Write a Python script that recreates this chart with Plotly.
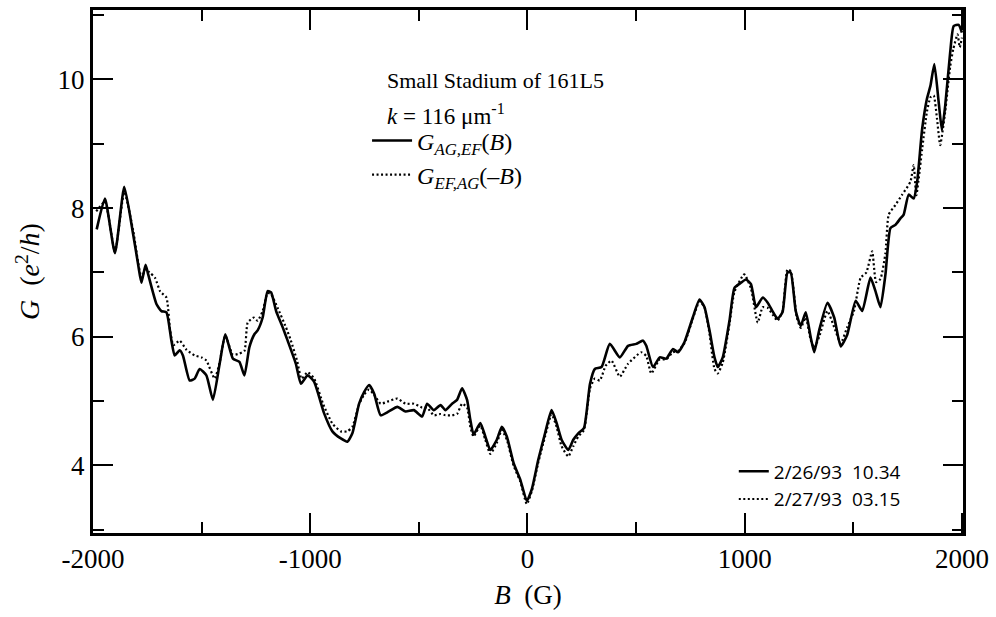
import plotly.graph_objects as go

# Solid curve: G_AG,EF(B), run 2/26/93 10.34
B_solid = [-1983, -1945, -1899, -1856, -1815, -1792, -1777, -1758, -1746, -1708, -1685, -1662, -1639, -1624,
           -1601, -1586, -1555, -1532, -1509, -1478, -1448, -1417, -1391, -1356, -1326, -1303, -1280, -1257,
           -1242, -1219, -1196, -1180, -1157, -1127, -1104, -1066, -1043, -1012, -982, -936, -898, -859, -829,
           -806, -775, -752, -729, -706, -676, -638, -599, -561, -523, -485, -462, -431, -400, -378, -347, -324,
           -301, -278, -263, -248, -217, -194, -171, -141, -118, -95, -64, -33, -3, 20, 50, 81, 111, 134, 157,
           188, 211, 234, 260, 288, 310, 341, 379, 425, 463, 501, 532, 547, 578, 609, 639, 670, 693, 723, 761,
           792, 815, 838, 861, 876, 899, 930, 953, 983, 1006, 1029, 1052, 1083, 1106, 1128, 1151, 1174, 1197,
           1212, 1235, 1258, 1281, 1304, 1320, 1343, 1381, 1412, 1442, 1472, 1511, 1541, 1579, 1602, 1625, 1648,
           1671, 1694, 1717, 1732, 1755, 1778, 1794, 1817, 1839, 1855, 1873, 1893, 1908, 1923, 1946, 1962, 1985,
           2000]
G_solid = [7.67, 8.15, 7.30, 8.33, 7.59, 7.12, 6.84, 7.12, 6.97, 6.51, 6.40, 6.38, 5.94, 5.71,
           5.79, 5.71, 5.32, 5.35, 5.50, 5.40, 5.02, 5.58, 6.04, 5.66, 5.61, 5.40, 5.84, 6.04,
           6.10, 6.30, 6.71, 6.69, 6.40, 6.15, 5.94, 5.58, 5.27, 5.40, 5.30, 4.81, 4.53, 4.42, 4.37,
           4.50, 4.96, 5.14, 5.25, 5.12, 4.78, 4.84, 4.91, 4.84, 4.86, 4.76, 4.96, 4.86, 4.94, 4.86, 4.96, 5.02,
           5.20, 5.02, 4.71, 4.48, 4.66, 4.45, 4.24, 4.40, 4.60, 4.45, 4.04, 3.78, 3.45, 3.63, 4.09, 4.50, 4.86, 4.66, 4.40,
           4.24, 4.40, 4.50, 4.58, 5.27, 5.50, 5.53, 5.89, 5.68, 5.86, 5.89, 5.94, 5.86, 5.53, 5.68, 5.66, 5.81, 5.76, 5.92, 6.30,
           6.58, 6.46, 6.10, 5.68, 5.53, 5.68, 6.25, 6.76, 6.84, 6.89, 6.82, 6.46, 6.61, 6.53, 6.40, 6.28, 6.38, 7.00,
           7.00, 6.40, 6.17, 6.38, 5.99, 5.76, 6.10, 6.53, 6.30, 5.85, 6.03, 6.56, 6.40, 6.92, 6.71, 6.46, 6.97,
           7.69, 7.74, 7.84, 7.90, 8.21, 8.15, 8.41, 9.23, 9.70, 9.90, 10.24, 9.65, 9.21, 9.59, 10.42, 10.83, 10.85,
           10.73]

# Dotted curve: G_EF,AG(-B), run 2/27/93 03.15
B_dot = [-1985, -1945, -1899, -1856, -1815, -1792, -1777, -1758, -1740, -1715, -1690, -1662, -1645, -1630,
         -1601, -1570, -1532, -1500, -1478, -1440, -1417, -1391, -1356, -1326, -1303, -1288, -1260, -1242,
         -1219, -1196, -1180, -1150, -1112, -1090, -1060, -1040, -1012, -982, -940, -898, -859, -829, -806,
         -775, -752, -729, -706, -676, -638, -599, -561, -523, -485, -462, -431, -400, -378, -347, -324, -301,
         -278, -263, -248, -217, -194, -171, -141, -118, -95, -64, -33, -3, 20, 50, 81, 111, 134, 157, 188,
         211, 234, 260, 288, 310, 333, 360, 387, 425, 463, 524, 547, 570, 609, 639, 670, 693, 723, 761, 792,
         815, 838, 861, 876, 899, 930, 953, 998, 1029, 1060, 1083, 1106, 1128, 1151, 1174, 1197, 1212, 1240,
         1258, 1281, 1304, 1320, 1343, 1381, 1412, 1442, 1472, 1503, 1534, 1560, 1587, 1605, 1625, 1648, 1663,
         1694, 1725, 1763, 1778, 1790, 1817, 1839, 1855, 1870, 1885, 1900, 1923, 1946, 1960, 1980, 1990, 2000]
G_dot = [7.95, 8.10, 7.32, 8.25, 7.65, 7.15, 6.92, 7.05, 7.00, 6.92, 6.70, 6.61, 6.10, 5.87,
         5.94, 5.80, 5.71, 5.68, 5.63, 5.35, 5.60, 6.02, 5.72, 5.74, 5.78, 6.22, 6.30, 6.25,
         6.40, 6.68, 6.66, 6.45, 6.15, 5.95, 5.62, 5.35, 5.45, 5.35, 4.95, 4.65, 4.53, 4.53, 4.60,
         4.95, 5.10, 5.18, 5.10, 4.96, 5.00, 5.04, 4.96, 4.96, 4.90, 4.90, 4.78, 4.80, 4.78, 4.78, 4.80, 4.96,
         4.90, 4.60, 4.45, 4.62, 4.40, 4.18, 4.35, 4.55, 4.40, 4.00, 3.75, 3.40, 3.60, 4.05, 4.45, 4.80, 4.60, 4.30, 4.14,
         4.30, 4.45, 4.55, 5.20, 5.35, 5.32, 5.55, 5.63, 5.38, 5.58, 5.76, 5.70, 5.43, 5.65, 5.65, 5.76, 5.78, 5.90, 6.28, 6.55,
         6.46, 6.05, 5.50, 5.43, 5.60, 6.20, 6.70, 6.97, 6.75, 6.22, 6.46, 6.45, 6.35, 6.25, 6.40, 7.05, 7.02, 6.30,
         6.14, 6.30, 5.95, 5.83, 6.00, 6.40, 6.15, 5.90, 6.15, 6.40, 6.92, 7.00, 7.33, 6.85, 6.90, 7.30, 7.90,
         8.05, 8.21, 8.41, 8.67, 8.20, 8.92, 9.50, 9.72, 9.75, 9.40, 8.98, 9.50, 10.20, 10.47, 10.70, 10.50, 10.65]

x_ticks = [-2000, -1000, 0, 1000, 2000]
x_ticklabels = ["-2000", "-1000", "0", "1000", "2000"]
y_ticks = [4, 6, 8, 10]

SERIF = "Liberation Serif"
SANS = "Open Sans"

fig = go.Figure()
fig.add_trace(go.Scatter(x=B_solid, y=G_solid, mode="lines", name="<i>G</i><sub><i>AG,EF</i></sub>(<i>B</i>)",
                         line=dict(color="black", width=2.6, shape="spline", smoothing=0.5), legend="legend"))
fig.add_trace(go.Scatter(x=B_dot, y=G_dot, mode="lines", name="<i>G</i><sub><i>EF,AG</i></sub>(–<i>B</i>)",
                         line=dict(color="black", width=2.2, dash="2px,2.5px", shape="spline", smoothing=0.5),
                         legend="legend"))
fig.add_trace(go.Scatter(x=[None], y=[None], mode="lines", name="2/26/93\u00a0\u00a010.34",
                         line=dict(color="black", width=2.6), legend="legend2"))
fig.add_trace(go.Scatter(x=[None], y=[None], mode="lines", name="2/27/93\u00a0\u00a003.15",
                         line=dict(color="black", width=2, dash="2px,2.5px"), legend="legend2"))

axis_common = dict(showline=True, linewidth=3, linecolor="black", mirror="allticks",
                   ticks="inside", tickwidth=2, tickcolor="black", showgrid=False, zeroline=False,
                   tickfont=dict(family=SERIF, size=27, color="black"))

fig.update_xaxes(range=[-2000, 2005], tickvals=x_ticks, ticktext=x_ticklabels, ticklen=20,
                 minor=dict(dtick=500, ticks="inside", ticklen=11, tickwidth=2, tickcolor="black", showgrid=False),
                 title=dict(text="<i>B</i>\u00a0\u00a0(G)", font=dict(family=SERIF, size=27, color="black"), standoff=12),
                 **axis_common)
fig.update_yaxes(range=[2.95, 11.08], tickvals=y_ticks, ticklen=20,
                 minor=dict(dtick=1, ticks="inside", ticklen=11, tickwidth=2, tickcolor="black", showgrid=False),
                 title=dict(text="<i>G</i>\u00a0\u00a0(<i>e</i><sup>2</sup>/<i>h</i>)",
                            font=dict(family=SERIF, size=28, color="black"), standoff=10),
                 **axis_common)

fig.update_layout(
    width=996, height=617,
    margin=dict(l=93, r=30, t=7, b=84),
    plot_bgcolor="white", paper_bgcolor="white",
    font=dict(family=SERIF, size=22, color="black"),
    legend=dict(x=(368 - 93) / 873, y=(533 - 116) / 526, xanchor="left", yanchor="top",
                bgcolor="rgba(0,0,0,0)", font=dict(family=SERIF, size=24, color="black"),
                itemwidth=40, tracegroupgap=0),
    legend2=dict(x=(736 - 93) / 873, y=(533 - 452) / 526, xanchor="left", yanchor="top",
                 bgcolor="rgba(0,0,0,0)", font=dict(family=SANS, size=19, color="black"),
                 itemwidth=30),
    showlegend=True,
    annotations=[
        dict(text="Small Stadium of 161L5", x=(386 - 93) / 873, y=(533 - 78) / 526, xref="paper", yref="paper",
             xanchor="left", yanchor="middle", showarrow=False, font=dict(family=SERIF, size=22, color="black")),
        dict(text="<i>k</i> = 116 μm<sup>-1</sup>", x=(386 - 93) / 873, y=(533 - 112) / 526, xref="paper", yref="paper",
             xanchor="left", yanchor="middle", showarrow=False, font=dict(family=SERIF, size=23, color="black")),
    ],
)

fig.write_html("out.html")
